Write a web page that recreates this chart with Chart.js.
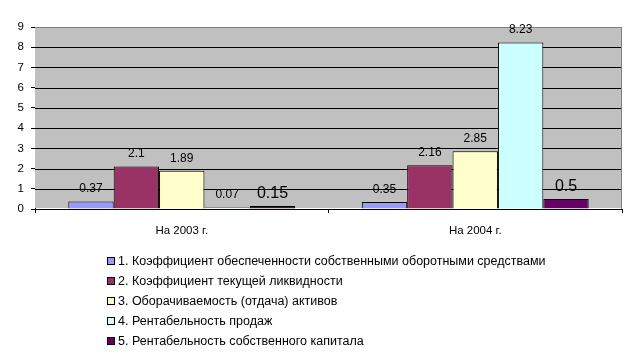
<!DOCTYPE html>
<html>
<head>
<meta charset="utf-8">
<script src="https://cdn.jsdelivr.net/npm/chart.js@4/dist/chart.umd.min.js"></script>
<style>
  html, body { margin: 0; padding: 0; background: #fff; }
  #wrap { position: relative; width: 639px; height: 360px; }
  #legend { position: absolute; left: 107px; top: 251px; font-family: "Liberation Sans", Arial, sans-serif; font-size: 12.5px; color: #000; }
  .li { height: 20px; line-height: 20px; white-space: nowrap; display: flex; align-items: center; }
  .sw { width: 6px; height: 6px; border: 1px solid #000; margin-right: 3px; display: inline-block; }
</style>
</head>
<body>
<div id="wrap">
  <canvas id="c" width="639" height="360"></canvas>
  <div id="legend"></div>
</div>
<script>
const categories = ["На 2003 г.", "На 2004 г."];
const seriesNames = [
  "1. Коэффициент обеспеченности собственными оборотными средствами",
  "2. Коэффициент текущей ликвидности",
  "3. Оборачиваемость (отдача) активов",
  "4. Рентабельность продаж",
  "5. Рентабельность собственного капитала"
];
const s1 = [0.37, 0.35];
const s2 = [2.1, 2.16];
const s3 = [1.89, 2.85];
const s4 = [0.07, 8.23];
const s5 = [0.15, 0.5];
const yTicks = [0, 1, 2, 3, 4, 5, 6, 7, 8, 9];

const colors = ["#9999FF", "#993366", "#FFFFCC", "#CCFFFF", "#660066"];
const labelSizes = [12, 12, 12, 12, 16];
const seriesValues = [s1, s2, s3, s4, s5];

const datasets = seriesValues.map((vals, i) => ({
  label: seriesNames[i],
  data: vals,
  backgroundColor: colors[i],
  borderColor: "#000000",
  borderWidth: 1,
  barPercentage: 1.0,
  categoryPercentage: 0.773,
  labelSize: labelSizes[i]
}));

const plotBg = {
  id: "plotBg",
  beforeDatasetsDraw(chart) {
    const { ctx, chartArea: a } = chart;
    const ys = chart.scales.y;
    const L = Math.round(a.left), R = Math.round(a.right), T = Math.round(a.top), B = Math.round(a.bottom);
    ctx.save();
    ctx.fillStyle = "#C0C0C0";
    ctx.fillRect(L, T, R - L, B - T - 1);
    ctx.fillStyle = "#000000";
    yTicks.slice(1, -1).forEach(v => {
      const py = Math.round(ys.getPixelForValue(v));
      ctx.fillRect(L, py, R - L, 1);
    });
    ctx.fillStyle = "#808080";
    ctx.fillRect(L, T, R - L, 1);
    ctx.fillRect(R - 1, T, 1, B - T);
    ctx.restore();
  }
};

const dataLabels = {
  id: "dataLabels",
  afterDatasetsDraw(chart) {
    const ctx = chart.ctx;
    ctx.save();
    ctx.fillStyle = "#000";
    ctx.textAlign = "center";
    ctx.textBaseline = "middle";
    chart.data.datasets.forEach((ds, di) => {
      const meta = chart.getDatasetMeta(di);
      ctx.font = ds.labelSize + "px 'Liberation Sans', Arial, sans-serif";
      meta.data.forEach((bar, idx) => {
        ctx.fillText(String(ds.data[idx]), bar.x, bar.y - 12.5);
      });
    });
    ctx.restore();
  }
};

new Chart(document.getElementById("c"), {
  type: "bar",
  data: { labels: categories, datasets },
  options: {
    responsive: false,
    animation: false,
    devicePixelRatio: 1,
    layout: { padding: { left: 0, right: 17, top: 27, bottom: 121 } },
    plugins: { legend: { display: false }, tooltip: { enabled: false } },
    scales: {
      x: {
        offset: true,
        afterFit(s) { s.height = 30; },
        grid: { offset: true, drawOnChartArea: false, color: "#000", tickLength: 4 },
        border: { color: "#000" },
        ticks: { color: "#000", padding: 11, font: { family: "'Liberation Sans', Arial, sans-serif", size: 11.5 } }
      },
      y: {
        min: yTicks[0], max: yTicks[yTicks.length - 1],
        afterFit(s) { s.width = 35; },
        grid: { color: "#000", tickLength: 4, drawOnChartArea: false },
        border: { color: "#000" },
        ticks: { stepSize: yTicks[1] - yTicks[0], color: "#000", padding: 7, font: { family: "'Liberation Sans', Arial, sans-serif", size: 11.5 } }
      }
    }
  },
  plugins: [plotBg, dataLabels]
});

const legend = document.getElementById("legend");
seriesNames.forEach((n, i) => {
  const row = document.createElement("div");
  row.className = "li";
  const sw = document.createElement("span");
  sw.className = "sw";
  sw.style.background = colors[i];
  row.appendChild(sw);
  row.appendChild(document.createTextNode(n));
  legend.appendChild(row);
});
</script>
</body>
</html>
